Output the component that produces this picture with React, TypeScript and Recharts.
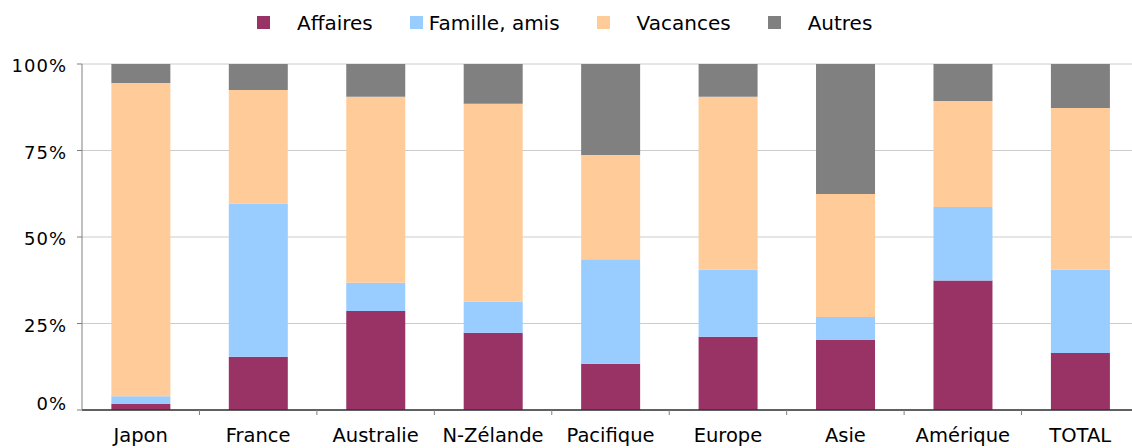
import React from 'react';
import { BarChart, Bar, XAxis, YAxis, CartesianGrid, Legend } from 'recharts';

const categories = ['Japon', 'France', 'Australie', 'N-Zélande', 'Pacifique', 'Europe', 'Asie', 'Amérique', 'TOTAL'];
const affaires = [1.7, 15.4, 28.6, 22.3, 13.4, 21.2, 20.2, 37.4, 16.5];
const famille = [2.3, 44.2, 8.2, 9.0, 30.2, 19.4, 6.7, 21.3, 24.1];
const vacances = [90.5, 32.9, 53.7, 57.2, 30.1, 49.9, 35.5, 30.6, 46.7];
const autres = [5.5, 7.5, 9.5, 11.5, 26.3, 9.5, 37.6, 10.7, 12.7];
const yTicks = [0, 25, 50, 75, 100];

const seriesNames = ['Affaires', 'Famille, amis', 'Vacances', 'Autres'];
const seriesKeys = ['affaires', 'famille', 'vacances', 'autres'];
const seriesColors = ['#993366', '#99CCFF', '#FFCC99', '#808080'];
const legendGaps = [27, 6, 27, 27];

const data = categories.map((c, i) => ({
  name: c,
  affaires: affaires[i],
  famille: famille[i],
  vacances: vacances[i],
  autres: autres[i],
}));

const FONT = '"DejaVu Sans", Verdana, sans-serif';

const XTick = (props: any) => {
  const { x, y, payload, width, visibleTicksCount } = props;
  const band = width / (visibleTicksCount || categories.length);
  const axisY = y - 18;
  return (
    <g>
      <line x1={x + band / 2} x2={x + band / 2} y1={axisY} y2={axisY + 5} stroke="#808080" strokeWidth={1} />
      <text x={x} y={y} dy="0.71em" textAnchor="middle" fontFamily={FONT} fontSize={19.5} fill="#000">
        {payload.value}
      </text>
    </g>
  );
};

const YTick = (props: any) => {
  const { x, y, payload } = props;
  const shift = payload.value === 0 ? -6 : 2;
  return (
    <text x={x} y={y + shift} dy="0.355em" textAnchor="end" fontFamily={FONT} fontSize={18} letterSpacing={1} fill="#000">
      {`${payload.value}%`}
    </text>
  );
};

const LegendContent = () => (
  <div style={{ display: 'flex', alignItems: 'center', height: 45, paddingLeft: 257, fontFamily: FONT, fontSize: 20, color: '#000' }}>
    {seriesNames.map((n, i) => (
      <div key={n} style={{ display: 'flex', alignItems: 'center', marginRight: 37 }}>
        <span style={{ display: 'inline-block', width: 13, height: 13, background: seriesColors[i], marginRight: legendGaps[i] }} />
        <span style={{ whiteSpace: 'nowrap' }}>{n}</span>
      </div>
    ))}
  </div>
);

export default function App() {
  return (
    <div style={{ position: 'absolute', left: 0, top: 0, width: 1132, height: 448, overflow: 'hidden', background: '#fff' }}>
      <BarChart
        width={1140}
        height={448}
        data={data}
        margin={{ top: 64, right: 1, bottom: 0, left: 0 }}
        barCategoryGap="25%"
      >
        <CartesianGrid vertical={false} stroke="#cccccc" />
        <Legend
          verticalAlign="middle"
          align="center"
          layout="horizontal"
          wrapperStyle={{ top: 0, left: 0, width: 1132, height: 45 }}
          content={<LegendContent />}
        />
        <XAxis
          dataKey="name"
          height={38}
          tickLine={false}
          tickSize={5}
          tickMargin={13}
          axisLine={{ stroke: '#333333', strokeWidth: 1.5 }}
          tick={<XTick />}
          interval={0}
        />
        <YAxis
          width={82}
          domain={[0, 100]}
          ticks={yTicks}
          allowDataOverflow
          axisLine={{ stroke: '#808080' }}
          tickLine={{ stroke: '#808080' }}
          tickSize={5}
          tickMargin={10}
          tick={<YTick />}
        />
        {seriesKeys.map((k, i) => (
          <Bar key={k} dataKey={k} name={seriesNames[i]} stackId="a" fill={seriesColors[i]} isAnimationActive={false} />
        ))}
      </BarChart>
    </div>
  );
}
